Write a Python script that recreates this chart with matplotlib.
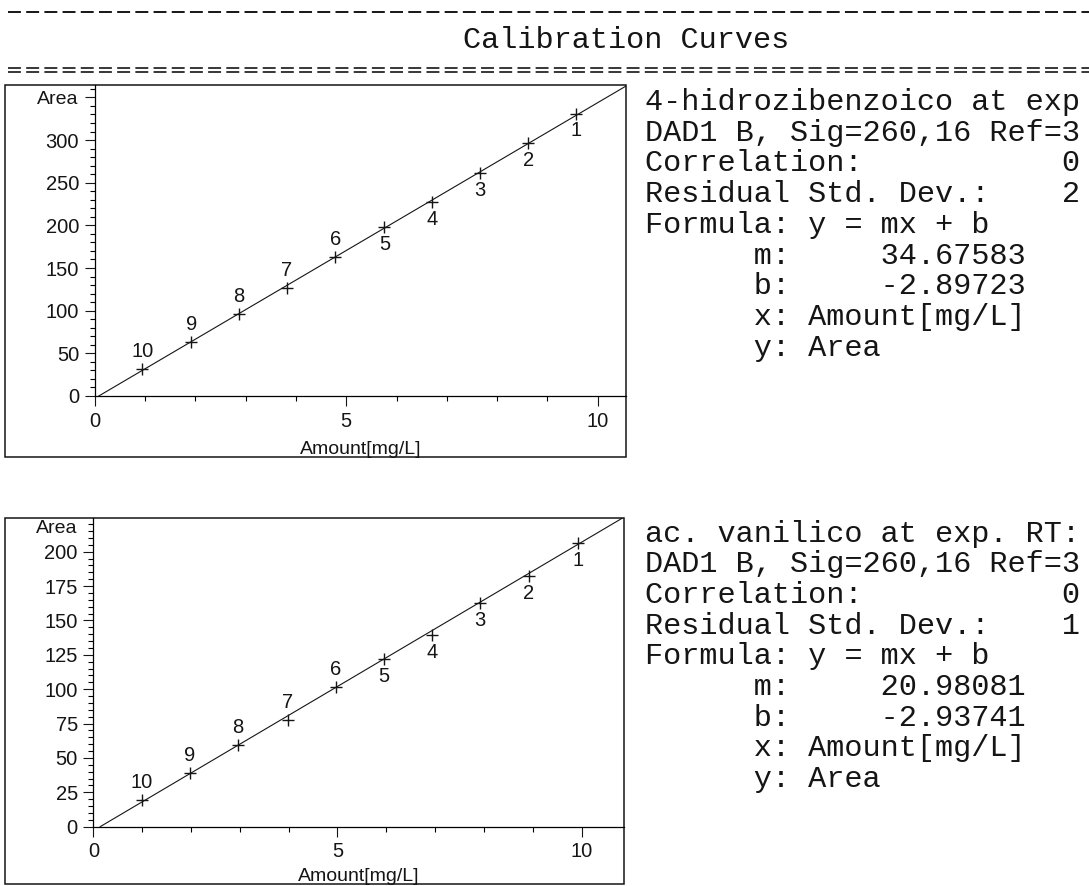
import numpy as np
import matplotlib
matplotlib.use("Agg")
import matplotlib.pyplot as plt
from matplotlib.patches import Rectangle
from matplotlib.ticker import FixedLocator

plt.rcParams['lines.scale_dashes'] = False

# calibration levels 1..10
levels = [1, 2, 3, 4, 5, 6, 7, 8, 9, 10]

hb_amount = [9.57, 8.62, 7.66, 6.71, 5.76, 4.78, 3.82, 2.86, 1.92, 0.95]
hb_area = [331, 296, 261, 227, 198, 163, 127, 95.7, 63.7, 31.6]
hb_m, hb_b = 34.67583, -2.89723

va_amount = [9.92, 8.92, 7.92, 6.93, 5.96, 4.97, 3.98, 2.96, 1.98, 0.99]
va_area = [206, 182.5, 162.5, 139.4, 122, 101.8, 77.6, 59.4, 39.3, 19.4]
va_m, va_b = 20.98081, -2.93741

hb_text = ["4-hidrozibenzoico at exp",
           "DAD1 B, Sig=260,16 Ref=3",
           "Correlation:           0",
           "Residual Std. Dev.:    2",
           "Formula: y = mx + b",
           "      m:     34.67583",
           "      b:     -2.89723",
           "      x: Amount[mg/L]",
           "      y: Area"]
va_text = ["ac. vanilico at exp. RT:",
           "DAD1 B, Sig=260,16 Ref=3",
           "Correlation:           0",
           "Residual Std. Dev.:    1",
           "Formula: y = mx + b",
           "      m:     20.98081",
           "      b:     -2.93741",
           "      x: Amount[mg/L]",
           "      y: Area"]

W, H = 1089, 886
fig = plt.figure(figsize=(W / 100, H / 100), dpi=100)

# page layer in pixel coordinates
page = fig.add_axes([0, 0, 1, 1])
page.set_xlim(0, W)
page.set_ylim(H, 0)
page.axis('off')

mono = 'Liberation Mono'
ink = '#151515'
page.plot([8, W], [12, 12], color=ink, lw=1.4, dashes=(9.3, 3.8))
page.plot([8, W], [67.5, 67.5], color=ink, lw=1.2, dashes=(9.3, 3.8))
page.plot([8, W], [72, 72], color=ink, lw=1.2, dashes=(9.3, 3.8))
page.text(463, 48, "Calibration Curves", family=mono, fontsize=21.8,
          va='baseline', color=ink)

for i, s in enumerate(hb_text):
    page.text(645, 110 + i * 30.7, s, family=mono, fontsize=21.8,
              va='baseline', color=ink)
for i, s in enumerate(va_text):
    page.text(645, 541.5 + i * 30.7, s, family=mono, fontsize=21.8,
              va='baseline', color=ink)


def calib_plot(box, xlim, ylim, ymajor, ystep, amount, area, m, b):
    l, t, r, btm = box
    ax = fig.add_axes([l / W, (H - btm) / H, (r - l) / W, (btm - t) / H])
    ax.set_xlim(*xlim)
    ax.set_ylim(*ylim)
    ax.patch.set_alpha(0)

    for side in ['top', 'right']:
        ax.spines[side].set_visible(False)
    ax.spines['left'].set_position(('data', 0))
    ax.spines['bottom'].set_position(('data', 0))
    ax.spines['left'].set_bounds(0, ylim[1])
    ax.spines['bottom'].set_bounds(0, xlim[1])
    for side in ['left', 'bottom']:
        ax.spines[side].set_linewidth(0.9)
    ax.add_patch(Rectangle((0, 0), 1, 1, transform=ax.transAxes, fill=False,
                           lw=1.1, ec=ink, clip_on=False))

    ax.xaxis.set_major_locator(FixedLocator([0, 5, 10]))
    ax.xaxis.set_minor_locator(FixedLocator([1, 2, 3, 4, 6, 7, 8, 9]))
    ax.yaxis.set_major_locator(FixedLocator(ymajor))
    ax.yaxis.set_minor_locator(FixedLocator(np.arange(0, ylim[1], ystep)))
    ax.set_yticklabels([str(v) if v < ylim[1] - 20 else '' for v in ymajor])
    ax.tick_params(which='major', length=7.2, width=0.8, pad=4,
                   labelsize=14.5, colors=ink)
    ax.tick_params(which='minor', length=3.6, width=0.8)
    for lab in ax.get_xticklabels() + ax.get_yticklabels():
        lab.set_family('Liberation Sans')

    # fitted line y = mx + b, starting where it crosses y = 0
    xs = np.array([-b / m, xlim[1]])
    ax.plot(xs, m * xs + b, color=ink, lw=0.8)
    ax.plot(amount, area, '+', color=ink, ms=9, mew=1.0)

    for lv, x, y in zip(levels, amount, area):
        dy = 12.5 if lv >= 6 else -12.5
        ax.annotate(str(lv), (x, y), xytext=(0, dy), textcoords='offset points',
                    ha='center', va='center', fontsize=14.5,
                    family='Liberation Sans', color=ink)

    ax.text(xlim[1] / 2, 0.02, "Amount[mg/L]", transform=ax.get_xaxis_transform(),
            ha='center', va='center', fontsize=14, family='Liberation Sans',
            color=ink)
    return ax


ax1 = calib_plot((5, 85, 626, 457), (-1.78, 10.56), (-71.5, 364.5),
                 [0, 50, 100, 150, 200, 250, 300, 350], 10,
                 hb_amount, hb_area, hb_m, hb_b)
ax1.annotate("Area", (0, 0.962), xycoords=ax1.get_xaxis_transform(),
             xytext=(-11.5, 0), textcoords='offset points', ha='right',
             va='center', fontsize=14, family='Liberation Sans', color=ink)

ax2 = calib_plot((5, 518, 624, 884), (-1.81, 10.87), (-41.7, 224.5),
                 [0, 25, 50, 75, 100, 125, 150, 175, 200], 5,
                 va_amount, va_area, va_m, va_b)
ax2.annotate("Area", (0, 0.970), xycoords=ax2.get_xaxis_transform(),
             xytext=(-11.5, 0), textcoords='offset points', ha='right',
             va='center', fontsize=14, family='Liberation Sans', color=ink)

fig.savefig("out.png", dpi=100)
